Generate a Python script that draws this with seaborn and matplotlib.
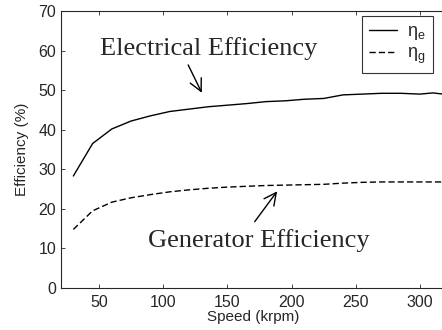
import matplotlib
matplotlib.use("Agg")
import matplotlib.pyplot as plt
import seaborn as sns
import pandas as pd

speed = [30, 45, 60, 75, 90, 105, 120, 135, 150, 165, 180, 195, 210, 225, 240, 255, 270, 285, 300, 310, 318]
eta_e = [28.3, 36.5, 40.2, 42.2, 43.5, 44.6, 45.2, 45.8, 46.2, 46.6, 47.1, 47.3, 47.7, 47.9, 48.8, 49.0, 49.2, 49.2, 49.0, 49.3, 49.0]
eta_g = [14.8, 19.5, 21.7, 22.8, 23.6, 24.3, 24.8, 25.2, 25.5, 25.7, 25.9, 26.0, 26.1, 26.2, 26.5, 26.7, 26.8, 26.8, 26.8, 26.8, 26.8]
labels = [r"$\eta_e$", r"$\eta_g$"]

df = pd.DataFrame({
    "speed": speed * 2,
    "eff": eta_e + eta_g,
    "series": [labels[0]] * len(speed) + [labels[1]] * len(speed),
})

sns.set_style("ticks")
plt.rcParams["font.family"] = ["Liberation Sans", "DejaVu Sans"]
plt.rcParams["mathtext.fontset"] = "custom"
plt.rcParams["mathtext.rm"] = "Liberation Sans"
plt.rcParams["mathtext.it"] = "Liberation Sans"

fig = plt.figure(figsize=(4.42, 3.30), dpi=100)
ax = fig.add_axes([60.5 / 442, 42 / 330, 385.2 / 442, 277 / 330])

sns.lineplot(data=df, x="speed", y="eff", style="series", color="black",
             dashes={labels[0]: "", labels[1]: (4.5, 2.2)}, linewidth=1.0, ax=ax)

ax.set_xlim(20, 320)
ax.set_ylim(0, 70)
ax.set_xticks([50, 100, 150, 200, 250, 300])
ax.set_yticks([0, 10, 20, 30, 40, 50, 60, 70])
ax.tick_params(direction="in", top=True, right=False, labelsize=11.5, length=3, width=0.6, pad=3)
ax.tick_params(axis="x", pad=5)
for s in ax.spines.values():
    s.set_linewidth(0.8)
ax.spines["right"].set_visible(False)
ax.set_xlabel("Speed (krpm)", fontsize=11, labelpad=0)
ax.set_ylabel("Efficiency (%)", fontsize=11, labelpad=7)

leg = ax.legend(loc="upper left", bbox_to_anchor=(0.783, 0.982), borderaxespad=0, frameon=True,
                fancybox=False, edgecolor="black", fontsize=13, handlelength=1.55,
                borderpad=0.4, labelspacing=0.15, handletextpad=0.55)
leg.get_frame().set_linewidth(0.8)
leg.set_title(None)

ax.text(51, 60.6, "Electrical Efficiency", family="Liberation Serif", fontsize=19, va="center", ha="left")
ax.text(88, 12.1, "Generator Efficiency", family="Liberation Serif", fontsize=19, va="center", ha="left")
ax.annotate("", xy=(131, 48.7), xytext=(118.5, 57),
            arrowprops=dict(arrowstyle="->", color="black", lw=1.0, mutation_scale=22))
ax.annotate("", xy=(190, 25), xytext=(170, 16.2),
            arrowprops=dict(arrowstyle="->", color="black", lw=1.0, mutation_scale=22))

fig.savefig("out.png", dpi=100)
